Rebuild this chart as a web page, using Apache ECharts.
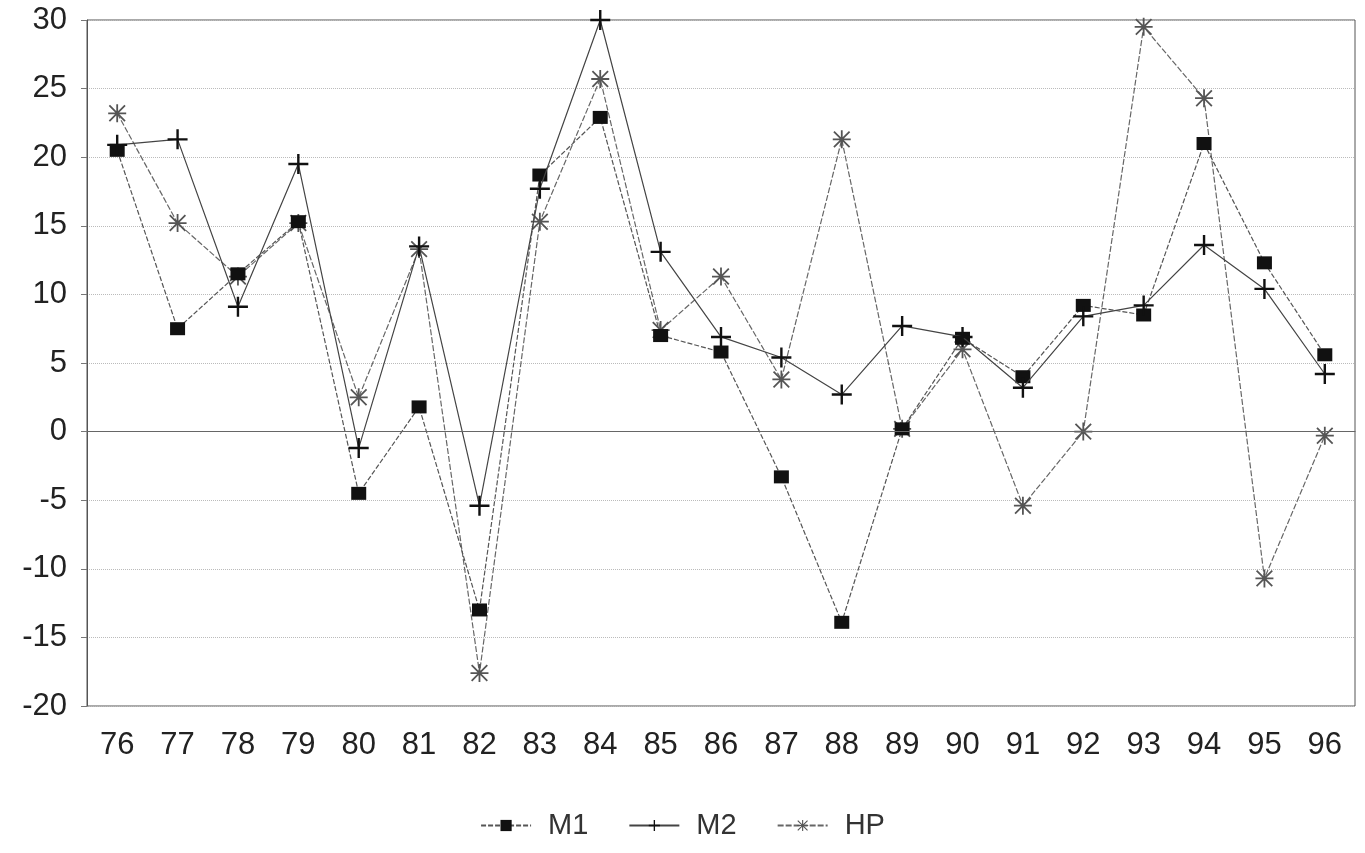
<!DOCTYPE html>
<html>
<head>
<meta charset="utf-8">
<script src="https://cdn.jsdelivr.net/npm/echarts@6/dist/echarts.min.js"></script>
<style>
  html, body { margin: 0; padding: 0; background: #fff; }
  #main { width: 1365px; height: 853px; }
</style>
</head>
<body>
<div id="main"></div>
<script>
// years on the x axis
var years = ['76', '77', '78', '79', '80', '81', '82', '83', '84', '85', '86',
  '87', '88', '89', '90', '91', '92', '93', '94', '95', '96']

// values
var m1 = [20.5, 7.5, 11.5, 15.3, -4.5, 1.8, -13, 18.7, 22.9, 7, 5.8,
  -3.3, -13.9, 0.2, 6.8, 4, 9.2, 8.5, 21, 12.3, 5.6]
var m2 = [20.9, 21.3, 9.1, 19.5, -1.2, 13.5, -5.4, 17.7, 30, 13.1, 6.9,
  5.4, 2.7, 7.7, 6.9, 3.2, 8.4, 9.2, 13.6, 10.4, 4.2]
var hp = [23.2, 15.2, 11.3, 15.2, 2.5, 13.3, -17.6, 15.3, 25.7, 7.4, 11.3,
  3.8, 21.3, 0.2, 6, -5.4, 0, 29.5, 24.3, -10.7, -0.3]

var yTicks = [-20, -15, -10, -5, 0, 5, 10, 15, 20, 25, 30]

var plusSymbol = 'path://M4.4,0 H5.6 V4.4 H10 V5.6 H5.6 V10 H4.4 V5.6 H0 V4.4 H4.4 Z'
var starSymbol = 'path://M4.5,0 H5.5 V4.5 H10 V5.5 H5.5 V10 H4.5 V5.5 H0 V4.5 H4.5 Z' +
  'M1,0.3 L9.7,9 L9,9.7 L0.3,1 Z M9,0.3 L9.7,1 L1,9.7 L0.3,9 Z'

var font = 'Liberation Sans, Arial, sans-serif'

var myChart = echarts.init(document.getElementById('main'))
var option = {
  backgroundColor: '#fff',
  animation: false,
  textStyle: { fontFamily: font },
  grid: {
    left: 87,
    right: 10,
    top: 20,
    bottom: 147,
    show: true,
    borderColor: '#555',
    borderWidth: 1
  },
  legend: {
    bottom: 8,
    left: 'center',
    itemWidth: 50,
    itemHeight: 14,
    itemGap: 40,
    textStyle: { fontSize: 29, color: '#333', fontFamily: font, padding: [0, 0, 0, 12] },
    data: ['M1', 'M2', 'HP']
  },
  xAxis: {
    type: 'category',
    data: years,
    boundaryGap: true,
    axisLine: { lineStyle: { color: '#555', width: 1 } },
    axisTick: { alignWithLabel: true, length: 6, lineStyle: { color: '#777' } },
    axisLabel: { fontSize: 31, color: '#222', margin: 24 },
    splitLine: { show: false }
  },
  yAxis: {
    type: 'value',
    min: yTicks[0],
    max: yTicks[yTicks.length - 1],
    interval: 5,
    axisLine: { show: true, lineStyle: { color: '#555', width: 1 } },
    axisTick: { show: true, length: 6, lineStyle: { color: '#777' } },
    axisLabel: { fontSize: 31, color: '#222', margin: 20 },
    splitLine: { show: true, lineStyle: { color: '#bbb', type: 'dotted', width: 1 } }
  },
  series: [
    {
      name: 'M1',
      type: 'line',
      data: m1,
      symbol: 'rect',
      symbolSize: [15, 13],
      itemStyle: { color: '#111' },
      lineStyle: { color: '#555', width: 1.2, type: [5, 2] },
      markLine: {
        silent: true,
        symbol: 'none',
        label: { show: false },
        lineStyle: { color: '#666', type: 'solid', width: 1 },
        data: [{ yAxis: 0 }]
      },
      z: 3
    },
    {
      name: 'M2',
      type: 'line',
      data: m2,
      symbol: plusSymbol,
      symbolSize: 20,
      symbolKeepAspect: true,
      itemStyle: { color: '#111' },
      lineStyle: { color: '#444', width: 1.2 },
      z: 4
    },
    {
      name: 'HP',
      type: 'line',
      data: hp,
      symbol: starSymbol,
      symbolSize: 18,
      symbolKeepAspect: true,
      itemStyle: { color: '#555' },
      lineStyle: { color: '#666', width: 1.2, type: [6, 2] },
      z: 2
    }
  ]
}
myChart.setOption(option)
</script>
</body>
</html>
